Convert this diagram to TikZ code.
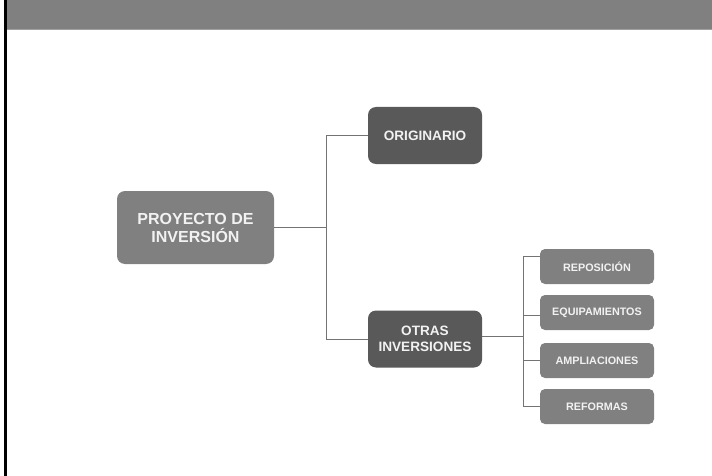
\documentclass[tikz,border=0pt]{standalone}
\usepackage{fontspec}
\setmainfont{Liberation Sans}
\begin{document}
\begin{tikzpicture}[x=1pt,y=-1pt,
  conn/.style={draw=black!55, line width=1pt},
  boxbase/.style={rounded corners=8pt, text=white!95!black, align=center, inner sep=0pt},
  mainbox/.style={boxbase, fill=black!50, minimum width=157pt, minimum height=73pt, font=\fontsize{16}{18}\selectfont\bfseries},
  midbox/.style={boxbase, fill=black!65, minimum width=114pt, minimum height=57pt, font=\fontsize{13.6}{15.5}\selectfont\bfseries},
  subbox/.style={boxbase, rounded corners=5pt, fill=black!50, minimum width=114pt, minimum height=35pt, font=\fontsize{10.8}{12}\selectfont\bfseries}
]
\useasboundingbox (0,0) rectangle (712,476);
\fill[white] (0,0) rectangle (712,476);
% header band
\fill[black!50] (6,0) rectangle (712,29);
\fill[black!37] (6,29) rectangle (712,30.5);
% left border line
\fill[black] (4.3,0) rectangle (6.5,476);

\node[mainbox] (proy) at (195.5,227.5) {PROYECTO DE\\INVERSIÓN};
\node[midbox] (orig) at (425,135.5) {ORIGINARIO};
\node[midbox] (otras) at (425,339) {OTRAS\\INVERSIONES};
\node[subbox] (rep) at (597,266.5) {REPOSICIÓN};
\node[subbox] (equ) at (597,312.5) {EQUIPAMIENTOS};
\node[subbox] (amp) at (597,360.5) {AMPLIACIONES};
\node[subbox] (ref) at (597,406.5) {REFORMAS};

\coordinate (j1) at (326,227.5);
\coordinate (j2) at (523,336);

\draw[conn] (proy.east) -- (j1);
\draw[conn] (j1 |- orig.west) -- (j1 |- otras.west);
\draw[conn] (orig.west) -- (j1 |- orig.west);
\draw[conn] (otras.west) -- (j1 |- otras.west);
\draw[conn] ([yshift=3pt]otras.east) -- (j2);
\draw[conn] ([yshift=10.5pt]rep.west -| j2) -- (j2 |- ref.west);
\draw[conn] ([yshift=10.5pt]rep.west) -- ([yshift=10.5pt]rep.west -| j2);
\draw[conn] ([yshift=-2.5pt]equ.west) -- ([yshift=-2.5pt]equ.west -| j2);
\draw[conn] (amp.west) -- (amp.west -| j2);
\draw[conn] (ref.west) -- (ref.west -| j2);
\end{tikzpicture}
\end{document}
